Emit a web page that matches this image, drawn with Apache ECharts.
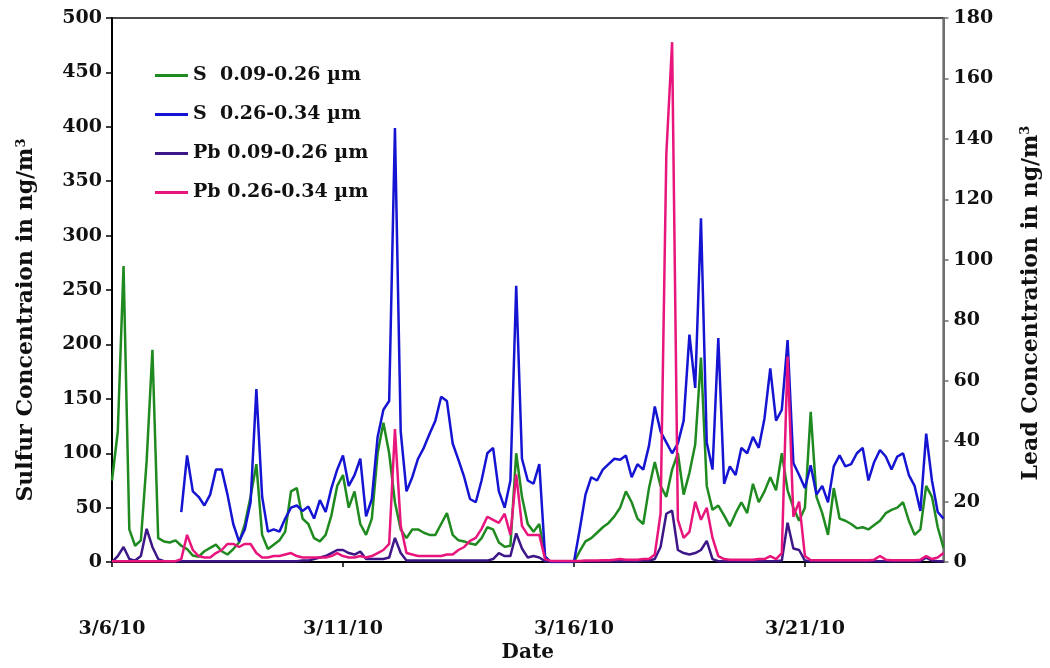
<!DOCTYPE html>
<html>
<head>
<meta charset="utf-8">
<script src="https://cdn.jsdelivr.net/npm/echarts@6/dist/echarts.min.js"></script>
<style>
  html, body { margin: 0; padding: 0; background: #fff; }
  #chart { width: 1050px; height: 668px; }
</style>
</head>
<body>
<div id="chart"></div>
<script>
// Three-hourly samples from 3/6/10 00:00 to 3/24/10 00:00
const START_DATE = Date.UTC(2010, 2, 6);
const STEP_HOURS = 3;

// Sulfur, 0.09-0.26 µm (ng/m3, left axis)
const sFine = [
  75,120,272,30,15,20,93,195,22,19,
  18,20,15,12,6,5,10,13,16,10,
  7,12,18,35,60,90,25,12,16,20,
  28,65,68,40,35,22,19,25,43,70,
  80,50,65,35,25,40,100,128,100,55,
  30,22,30,30,27,25,25,35,45,25,
  20,19,17,16,22,32,30,18,14,15,
  100,60,35,28,35,5,0,0,0,0,
  0,10,19,22,27,32,36,42,50,65,
  55,40,35,68,92,70,60,85,100,62,
  82,108,188,70,48,52,43,33,45,55,
  45,72,55,65,78,66,100,66,50,38,
  50,138,60,45,25,68,40,38,35,31,
  32,30,34,38,45,48,50,55,38,25,
  30,70,60,32,13
];

// Sulfur, 0.26-0.34 µm (ng/m3, left axis); no record before 3/7 12:00
const sCoarse = [
  null,null,null,null,null,null,null,null,null,null,
  null,null,46,98,65,60,52,62,85,85,
  62,35,19,30,55,159,60,28,30,28,
  40,50,52,47,51,40,57,46,68,85,
  98,70,80,95,42,58,115,140,148,399,
  120,65,78,95,105,118,130,152,148,109,
  94,78,58,55,75,100,105,65,50,75,
  254,95,75,72,90,5,0,0,0,0,
  0,30,62,78,75,85,90,95,94,98,
  78,90,85,107,143,120,110,100,109,130,
  209,160,316,110,85,206,72,88,80,105,
  100,115,105,132,178,130,140,204,91,80,
  68,89,62,70,55,88,98,88,90,100,
  105,75,92,103,97,85,97,100,80,70,
  47,118,75,46,40
];

// Lead, 0.09-0.26 µm (ng/m3, right axis)
const pbFine = [
  0,2,5,1,0.5,2,11,5,1,0.3,
  0.3,0.3,0.3,0.3,0.3,0.3,0.3,0.3,0.3,0.3,
  0.3,0.3,0.3,0.3,0.3,0.3,0.3,0.3,0.3,0.3,
  0.3,0.3,0.3,0.5,0.5,1,1.5,2,3,4,
  4,3,2.5,3.5,1,1,1,1,1.5,8,
  3,0.5,0.5,0.5,0.5,0.5,0.5,0.5,0.5,0.5,
  0.5,0.5,0.5,0.5,0.5,0.5,1,3,2,2,
  9.5,4.5,1.5,2,1.5,0.3,0.3,0.3,0.3,0.3,
  0.3,0.3,0.3,0.3,0.3,0.3,0.3,0.3,0.3,0.3,
  0.3,0.3,0.5,0.5,1,5,16,17,4,3,
  2.5,3,4,7,1,0.3,0.3,0.3,0.3,0.3,
  0.3,0.3,0.3,0.3,0.3,0.3,0.5,13,4.5,4,
  0.5,0.3,0.3,0.3,0.3,0.3,0.3,0.3,0.3,0.3,
  0.3,0.3,0.3,0.3,0.3,0.3,0.3,0.3,0.3,0.3,
  0.3,1.5,0.5,0.3,0.3
];

// Lead, 0.26-0.34 µm (ng/m3, right axis)
const pbCoarse = [
  0.3,0.3,0.3,0.3,0.3,0.3,0.3,0.3,0.3,0.3,
  0.3,0.3,1,9,4,2,1.5,1.5,3,4,
  6,6,5,6,6,3,1.5,1.5,2,2,
  2.5,3,2,1.5,1.5,1.5,1.5,1.5,2,3,
  2,1.5,1.5,2,1.5,2,3,4,6,44,
  12,3,2.5,2,2,2,2,2,2.5,2.5,
  4,5,7,8,11,15,14,13,16,9,
  29,12,9,9,9,1,0.4,0.4,0.4,0.4,
  0.4,0.4,0.5,0.5,0.5,0.6,0.6,0.8,1,0.8,
  0.8,0.8,1,1,2.5,16,135,172,14,8,
  10,20,14,18,8,2,1,0.8,0.8,0.8,
  0.8,0.8,1,1,2,1,3,68,15,20,
  2,0.6,0.6,0.6,0.6,0.6,0.6,0.6,0.6,0.6,
  0.6,0.6,0.8,2,0.8,0.6,0.6,0.6,0.6,0.6,
  0.8,2,1,1.5,3
];

const seriesNames = ['S  0.09-0.26 µm', 'S  0.26-0.34 µm', 'Pb 0.09-0.26 µm', 'Pb 0.26-0.34 µm'];
const seriesColors = ['#1f8a1f', '#1414d2', '#3d1688', '#e8157c'];

// Date labels for each sample (m/d/yy), shown every 5 days
const categories = sFine.map((_, i) => {
  const d = new Date(START_DATE + i * STEP_HOURS * 3600e3);
  return (d.getUTCMonth() + 1) + '/' + d.getUTCDate() + '/' + String(d.getUTCFullYear()).slice(2);
});
const LABEL_EVERY = 5 * 24 / STEP_HOURS;
const showTick = (idx) => idx % LABEL_EVERY === 0;

const FONT = 'DejaVu Serif';
const labelStyle = { fontFamily: FONT, fontWeight: 'bold', fontSize: 19, color: '#111' };
const titleRich = {
  t: { fontFamily: FONT, fontWeight: 'bold', fontSize: 22, color: '#111' },
  sup: { fontFamily: FONT, fontWeight: 'bold', fontSize: 13, color: '#111', padding: [0, 0, 10, 0] }
};

const chart = echarts.init(document.getElementById('chart'), null, { renderer: 'canvas' });

const mkLine = (k, yIdx, data) => ({
  name: seriesNames[k],
  type: 'line',
  yAxisIndex: yIdx,
  data: data,
  showSymbol: false,
  symbol: 'none',
  connectNulls: false,
  lineStyle: { width: 2.5, color: seriesColors[k] },
  itemStyle: { color: seriesColors[k] },
  animation: false
});

chart.setOption({
  backgroundColor: '#fff',
  animation: false,
  grid: {
    left: 112, right: 106, top: 18, bottom: 97,
    show: true, borderColor: '#4a4a4a', borderWidth: 2, backgroundColor: 'transparent'
  },
  legend: {
    orient: 'vertical',
    left: 150, top: 61,
    itemWidth: 33, itemHeight: 3, itemGap: 20,
    icon: 'rect',
    textStyle: { fontFamily: FONT, fontWeight: 'bold', fontSize: 19, color: '#111' },
    data: seriesNames
  },
  xAxis: {
    type: 'category',
    data: categories,
    boundaryGap: false,
    name: 'Date',
    nameLocation: 'middle',
    nameGap: 68,
    nameTextStyle: { fontFamily: FONT, fontWeight: 'bold', fontSize: 20, color: '#111' },
    axisLine: { lineStyle: { color: '#000', width: 2 } },
    axisTick: { show: true, interval: (idx) => showTick(idx), length: 5, lineStyle: { color: '#000', width: 1.5 } },
    axisLabel: { ...labelStyle, interval: (idx) => showTick(idx), margin: 57 },
    splitLine: { show: false }
  },
  yAxis: [
    {
      type: 'value',
      min: 0, max: 500, interval: 50,
      position: 'left',
      name: '{t|Sulfur Concentraion in ng/m}{sup|3}',
      nameLocation: 'middle',
      nameGap: 74,
      nameRotate: 90,
      nameTextStyle: { rich: titleRich, padding: [0, 60, 0, 0] },
      axisLine: { show: true, lineStyle: { color: '#000', width: 2 } },
      axisTick: { show: true, length: 6, lineStyle: { color: '#000', width: 1.5 } },
      axisLabel: { ...labelStyle, margin: 10 },
      splitLine: { show: false }
    },
    {
      type: 'value',
      min: 0, max: 180, interval: 20,
      position: 'right',
      name: '{t|Lead Concentration in ng/m}{sup|3}',
      nameLocation: 'middle',
      nameGap: 76,
      nameRotate: 90,
      nameTextStyle: { rich: titleRich, padding: [0, 26, 0, 0] },
      axisLine: { show: true, lineStyle: { color: '#6e6e6e', width: 2 } },
      axisTick: { show: true, length: 5, lineStyle: { color: '#6e6e6e', width: 1.5 } },
      axisLabel: { ...labelStyle, margin: 10 },
      splitLine: { show: false }
    }
  ],
  series: [
    mkLine(0, 0, sFine),
    mkLine(1, 0, sCoarse),
    mkLine(2, 1, pbFine),
    mkLine(3, 1, pbCoarse)
  ]
});
</script>
</body>
</html>
